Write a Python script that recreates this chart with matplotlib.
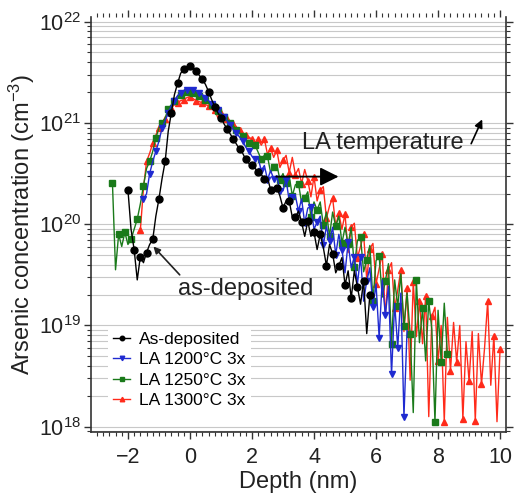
import matplotlib
matplotlib.use("Agg")
import matplotlib.pyplot as plt
from matplotlib.ticker import LogLocator, NullFormatter, FixedLocator
import numpy as np

plt.rcParams["font.family"] = ["Liberation Sans", "DejaVu Sans"]
plt.rcParams["mathtext.fontset"] = "custom"
plt.rcParams["mathtext.rm"] = "Liberation Sans"
plt.rcParams["mathtext.default"] = "regular"

# depth grids (nm), 0.1 nm step
depth_asdep = np.round(np.arange(-2.0, 5.85, 0.1), 2)
depth_1200 = np.round(np.arange(-1.5, 7.05, 0.1), 2)
depth_1250 = np.round(np.arange(-2.5, 8.35, 0.1), 2)
depth_1300 = np.round(np.arange(-1.6, 10.05, 0.1), 2)

# log10 of arsenic concentration (cm^-3)
logc_asdep = [
    20.34, 19.95, 19.75, 19.45, 19.68, 19.62, 19.72, 19.80, 19.85, 20.08,
    20.25, 20.45, 20.62, 20.92, 21.10, 21.28, 21.39, 21.49, 21.53, 21.55,
    21.56, 21.55, 21.51, 21.47, 21.43, 21.38, 21.31, 21.23, 21.16, 21.10,
    21.05, 20.99, 20.94, 20.89, 20.84, 20.79, 20.74, 20.70, 20.64, 20.60,
    20.58, 20.55, 20.52, 20.49, 20.45,
    20.46, 20.34, 20.35, 20.36, 20.28, 20.16, 20.23, 20.23, 20.07, 20.07,
    20.13, 20.02, 19.88, 20.03, 19.88, 19.92, 19.75, 19.90, 19.77, 19.59,
    19.80, 19.71, 19.52, 19.59, 19.67, 19.40, 19.54, 19.27, 19.54, 19.38,
    19.21, 19.44, 18.92, 19.30,
]
logc_1200 = [
    20.25, 20.30, 20.50, 20.62, 20.72, 20.82, 20.95, 21.02, 21.10, 21.17,
    21.22, 21.27, 21.30, 21.32, 21.33, 21.34, 21.33, 21.32, 21.30, 21.28,
    21.25, 21.22, 21.19, 21.16, 21.13, 21.10, 21.06, 21.02, 20.98, 20.93,
    20.90, 20.86, 20.82, 20.76, 20.72, 20.67,
    20.64, 20.65, 20.53, 20.58, 20.44, 20.53, 20.45, 20.48, 20.33, 20.33,
    20.44, 20.23, 20.27, 20.28, 20.13, 20.25, 20.01, 20.16, 20.17, 19.95,
    20.02, 20.08, 19.79, 19.98, 19.83, 19.97, 19.70, 19.90, 19.75, 19.52,
    19.82, 19.57, 19.68, 19.41, 19.68, 19.24, 19.44, 19.57, 19.18, 19.41,
    18.88, 19.45, 19.10, 19.39, 18.52, 19.22, 18.78, 19.32, 18.10, 18.95,
]
logc_1250 = [
    20.41, 19.55, 19.90, 19.78, 19.92, 19.80, 19.85, 19.95, 20.05, 20.20,
    20.38, 20.55, 20.62, 20.72, 20.85, 20.95, 21.00, 21.05, 21.14, 21.18,
    21.22, 21.26, 21.28, 21.30, 21.31, 21.31, 21.30, 21.29, 21.27, 21.25,
    21.23, 21.20, 21.18, 21.15, 21.12, 21.09, 21.06, 21.03, 21.00, 20.97,
    20.93, 20.90, 20.87, 20.83, 20.80, 20.77,
    20.78, 20.71, 20.64, 20.68, 20.67, 20.51, 20.56, 20.59, 20.44, 20.50,
    20.41, 20.48, 20.28, 20.39, 20.40, 20.21, 20.26, 20.32, 20.07, 20.22,
    20.14, 20.22, 19.99, 20.12, 19.88, 20.12, 19.98, 20.08, 19.81, 19.97,
    19.80, 19.97, 19.58, 19.84, 19.87, 19.53, 19.65, 19.79, 19.24, 19.64,
    19.69, 19.28, 19.44, 19.61, 18.82, 19.45, 19.19, 19.51, 18.99, 19.32,
    18.92, 18.14, 19.45, 18.83, 19.17, 18.65, 19.24, 18.96, 18.05, 19.15,
    18.64, 19.22, 18.72,
]
logc_1300 = [
    19.94, 20.35, 20.62, 20.70, 20.80, 20.88, 20.95, 20.99, 21.04, 21.10,
    21.15, 21.18, 21.20, 21.22, 21.23, 21.25, 21.26, 21.24, 21.22, 21.21,
    21.20, 21.18, 21.17, 21.15, 21.13, 21.05, 21.10, 21.07, 21.04, 21.01,
    20.99, 20.96, 20.93, 20.90, 20.88, 20.86, 20.84,
    20.78, 20.84, 20.78, 20.84, 20.69, 20.75, 20.66, 20.73, 20.56, 20.63,
    20.68, 20.51, 20.66, 20.49, 20.55, 20.40, 20.54, 20.43, 20.27, 20.47,
    20.23, 20.34, 20.37, 20.06, 20.18, 20.26, 19.98, 20.11, 19.95, 20.10,
    19.72, 19.97, 20.01, 19.67, 19.78, 19.90, 19.45, 19.76, 19.81, 19.41,
    19.56, 19.71, 19.09, 19.55, 19.62, 19.17, 19.35, 19.55, 18.94, 19.37,
    18.46, 19.43, 18.89, 19.24, 18.82, 19.29, 18.10, 19.09, 19.18, 18.65,
    19.00, 18.05, 19.08, 18.55, 19.03, 18.64, 19.00, 18.08, 18.84, 18.45,
    18.94, 18.06, 18.92, 18.42, 18.78, 19.24, 18.41, 18.90, 18.05, 18.77,
]

series = [
    ("LA 1300°C 3x", depth_1300, logc_1300, "#ff2a1a", "^"),
    ("LA 1250°C 3x", depth_1250, logc_1250, "#1a7a1a", "s"),
    ("LA 1200°C 3x", depth_1200, logc_1200, "#1f2ad0", "v"),
    ("As-deposited", depth_asdep, logc_asdep, "#000000", "o"),
]

fig = plt.figure(figsize=(5.14, 4.93), dpi=100)
ax = fig.add_axes([0.1765, 0.1237, 0.8079, 0.8418])

handles = {}
for label, depth, logc, color, marker in series:
    (h,) = ax.plot(
        depth,
        10.0 ** np.array(logc),
        color=color,
        lw=1.0,
        marker=marker,
        markersize=5,
        markevery=2,
        label=label,
    )
    handles[label] = h

ax.set_yscale("log")
ax.set_xlim(-3.2, 10.19)
ax.set_ylim(10**17.948, 10**22.046)

# axis styling
for side in ["left", "right", "bottom"]:
    ax.spines[side].set_color("#333333")
    ax.spines[side].set_linewidth(1.2)
ax.spines["top"].set_visible(False)

ax.xaxis.set_major_locator(FixedLocator([-2, 0, 2, 4, 6, 8, 10]))
ax.xaxis.set_minor_locator(FixedLocator(np.round(np.arange(-3.0, 10.01, 0.2), 2)))
ax.yaxis.set_minor_locator(LogLocator(base=10, subs=np.arange(2, 10), numticks=20))
ax.yaxis.set_minor_formatter(NullFormatter())
ax.set_yticks([1e18, 1e19, 1e20, 1e21, 1e22])
ax.set_yticklabels([r"$10^{18}$", r"$10^{19}$", r"$10^{20}$", r"$10^{21}$", r"$10^{22}$"])

ax.tick_params(axis="both", which="major", direction="out", length=5, width=1,
               color="#333333", labelsize=15.5, labelcolor="#222222")
ax.tick_params(axis="both", which="minor", direction="out", length=3, width=0.8,
               color="#333333")
ax.tick_params(axis="x", which="both", top=True, pad=6)
ax.tick_params(axis="y", which="both", right=True, pad=2)

ax.grid(True, which="both", axis="y", color="#c8c8c8", lw=0.8)
ax.set_axisbelow(True)

ax.set_xlabel("Depth (nm)", fontsize=17, color="#222222", labelpad=2)
ax.set_ylabel("Arsenic concentration (cm$^{-3}$)", fontsize=17, color="#222222", labelpad=1)

# annotations
ax.text(3.61, 10**20.80, "LA temperature", fontsize=17, color="#222222", va="center")
ax.annotate("", xy=(9.46, 10**21.06), xytext=(9.03, 10**20.77),
            arrowprops=dict(arrowstyle="-|>", color="black", lw=1.2, mutation_scale=12))
ax.annotate("", xy=(4.88, 10**20.47), xytext=(2.69, 10**20.47),
            arrowprops=dict(arrowstyle="-|>", color="black", lw=1.3, mutation_scale=28))
ax.text(-0.39, 10**19.36, "as-deposited", fontsize=17, color="#222222", va="center")
ax.annotate("", xy=(-1.24, 10**19.80), xytext=(-0.27, 10**19.48),
            arrowprops=dict(arrowstyle="-|>", color="#222222", lw=1.2, mutation_scale=10))

order = ["As-deposited", "LA 1200°C 3x", "LA 1250°C 3x", "LA 1300°C 3x"]
leg = ax.legend(
    [handles[k] for k in order],
    order,
    loc="lower left",
    bbox_to_anchor=(0.02, 0.024),
    frameon=True,
    fontsize=12.5,
    handlelength=1.0,
    handletextpad=0.5,
    labelspacing=0.3,
    borderpad=0.3,
    markerscale=0.65,
)
leg.get_frame().set_edgecolor("none")
leg.get_frame().set_facecolor("white")
leg.get_frame().set_alpha(1.0)

fig.savefig("out.png", dpi=100)
